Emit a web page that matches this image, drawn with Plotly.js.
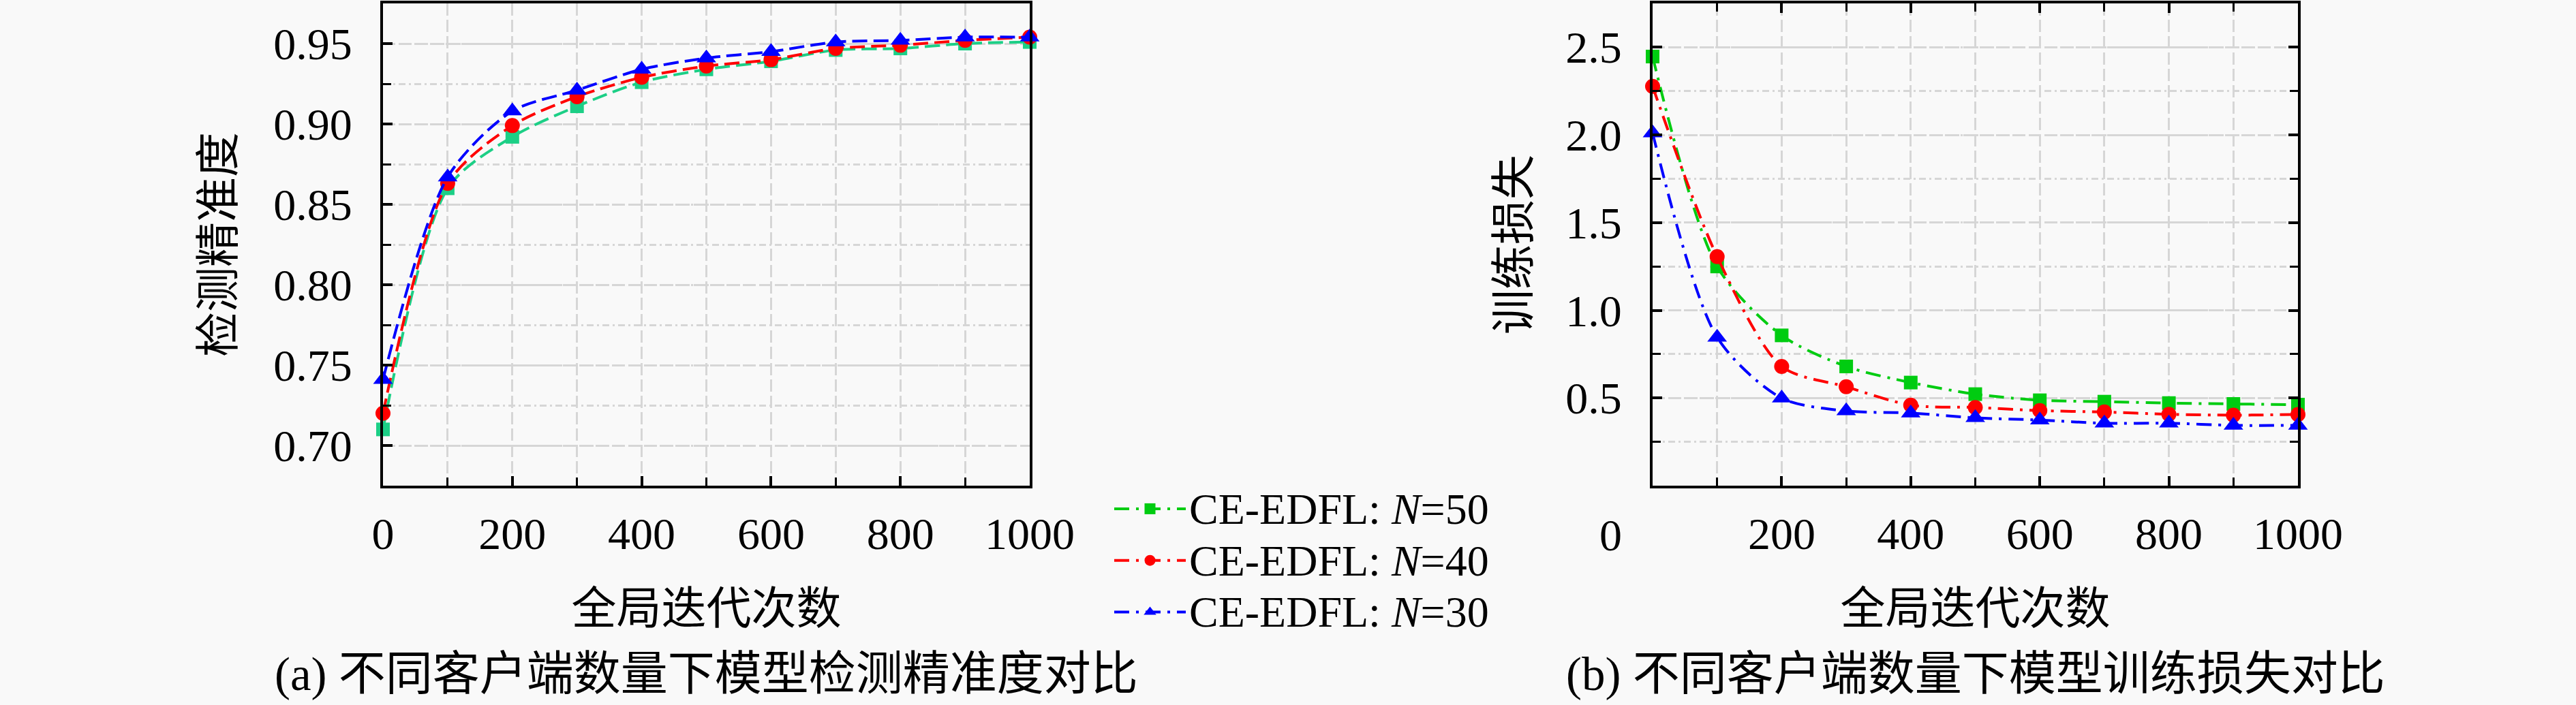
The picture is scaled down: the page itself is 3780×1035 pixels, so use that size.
<!DOCTYPE html>
<html>
<head>
<meta charset="utf-8">
<script src="https://cdn.plot.ly/plotly-3.0.1.min.js"></script>
<style>html,body{margin:0;padding:0;background:#f9f9f9;}#chart{width:3780px;height:1035px;}</style>
</head>
<body>
<div id="chart"></div>
<script>
// ---- data ----
const iterations = [0, 100, 200, 300, 400, 500, 600, 700, 800, 900, 1000];
const seriesNames = ['CE-EDFL: <i>N</i>=50', 'CE-EDFL: <i>N</i>=40', 'CE-EDFL: <i>N</i>=30'];
// (a) detection accuracy
const accN50 = [0.710, 0.860, 0.892, 0.911, 0.926, 0.934, 0.939, 0.946, 0.947, 0.950, 0.951];
const accN40 = [0.720, 0.863, 0.899, 0.917, 0.929, 0.936, 0.940, 0.947, 0.949, 0.952, 0.954];
const accN30 = [0.741, 0.867, 0.908, 0.921, 0.934, 0.941, 0.945, 0.951, 0.952, 0.954, 0.954];
// (b) training loss
const lossN50 = [2.447, 1.250, 0.857, 0.680, 0.588, 0.522, 0.487, 0.479, 0.471, 0.466, 0.462];
const lossN40 = [2.277, 1.306, 0.680, 0.564, 0.459, 0.446, 0.428, 0.420, 0.407, 0.402, 0.406];
const lossN30 = [2.011, 0.846, 0.499, 0.426, 0.414, 0.387, 0.374, 0.356, 0.356, 0.344, 0.344];
const accTicks = [0.70, 0.75, 0.80, 0.85, 0.90, 0.95];
const lossTicks = [0.5, 1.0, 1.5, 2.0, 2.5];
const xTicksA = [0, 200, 400, 600, 800, 1000];
const xTicksB = [200, 400, 600, 800, 1000];
const xTitle = '全局迭代次数';
const yTitleA = '检测精准度';
const yTitleB = '训练损失';
const captionA = '(a) 不同客户端数量下模型检测精准度对比';
const captionB = '(b) 不同客户端数量下模型训练损失对比';

// ---- style ----
const LATIN = 'Liberation Serif, Times New Roman, serif';
const MIXED = 'Liberation Serif, Noto Sans CJK SC, serif';
const CJK = 'Noto Sans CJK SC, sans-serif';
const FS = 66;
const colorsA = ['#1ccf86', '#ff0000', '#0000ff'];
const colorsB = ['#00cc11', '#ff0000', '#0000ff'];
const symbols = ['square', 'circle', 'triangle-up'];
const msize = [20, 22, 25];

const accSeries = [accN50, accN40, accN30];
const lossSeries = [lossN50, lossN40, lossN30];

const traces = [];
accSeries.forEach((ys, i) => {
  traces.push({
    x: iterations, y: ys, xaxis: 'x', yaxis: 'y', type: 'scatter', mode: 'lines+markers',
    name: seriesNames[i], showlegend: false, cliponaxis: false,
    line: {color: colorsA[i], width: 4, dash: '22px,9px', shape: 'spline', smoothing: 0.8},
    marker: {symbol: symbols[i], size: msize[i], color: colorsA[i]}
  });
});
lossSeries.forEach((ys, i) => {
  traces.push({
    x: iterations, y: ys, xaxis: 'x2', yaxis: 'y2', type: 'scatter', mode: 'lines+markers',
    name: '<span style="font-size:64px">' + seriesNames[i] + '</span>', showlegend: true, cliponaxis: false,
    line: {color: colorsB[i], width: 4, dash: '22px,10px,4px,10px', shape: 'spline', smoothing: 0.8},
    marker: {symbol: symbols[i], size: msize[i], color: colorsB[i]}
  });
});

const gridCol = '#d6d6d6';
function xAxis(domain, anchor, tickvals, mirror) {
  return {
    domain: domain, anchor: anchor, range: [0, 1000], tickmode: 'array', tickvals: tickvals,
    ticks: 'inside', ticklen: 14, tickwidth: 4, tickcolor: '#000',
    showline: true, linewidth: 4, linecolor: '#000', mirror: mirror, zeroline: false,
    showgrid: true, gridcolor: gridCol, gridwidth: 3, griddash: '18px,6px',
    minor: {tickmode: 'linear', tick0: 0, dtick: 100, ticks: 'inside', ticklen: 12, tickwidth: 3, tickcolor: '#000',
            showgrid: true, gridcolor: gridCol, gridwidth: 3, griddash: '18px,6px'},
    tickfont: {family: LATIN, size: FS, color: '#000'}, ticklabelstandoff: 10,
    title: {text: xTitle, font: {family: CJK, size: FS, color: '#000'}, standoff: 52}
  };
}
function yAxis(domain, anchor, range, tickvals, fmt, minorStep, title, mirror, standoff) {
  return {
    domain: domain, anchor: anchor, range: range, tickmode: 'array', tickvals: tickvals, tickformat: fmt,
    ticks: 'inside', ticklen: 14, tickwidth: 4, tickcolor: '#000',
    showline: true, linewidth: 4, linecolor: '#000', mirror: mirror, zeroline: false,
    showgrid: true, gridcolor: gridCol, gridwidth: 3, griddash: '18px,6px',
    minor: {tickmode: 'linear', tick0: 0, dtick: minorStep, ticks: 'inside', ticklen: 12, tickwidth: 3, tickcolor: '#000',
            showgrid: true, gridcolor: gridCol, gridwidth: 3, griddash: '10px,5px,3px,5px'},
    tickfont: {family: LATIN, size: FS, color: '#000'}, ticklabelstandoff: 28,
    title: {text: title, font: {family: CJK, size: FS, color: '#000'}, standoff: standoff}
  };
}

const yDom = [1 - 713 / 1035, 1 - 5 / 1035];
const layout = {
  width: 3780, height: 1035,
  margin: {l: 0, r: 0, t: 0, b: 0, pad: 0},
  paper_bgcolor: '#f9f9f9', plot_bgcolor: '#f9f9f9',
  font: {family: MIXED, size: FS, color: '#000'},
  xaxis: xAxis([562 / 3780, 1511 / 3780], 'y', xTicksA, true),
  yaxis: yAxis(yDom, 'x', [0.675, 0.975], accTicks, '.2f', 0.025, yTitleA, true, 37),
  xaxis2: xAxis([2425 / 3780, 3372 / 3780], 'y2', xTicksB, 'ticks'),
  yaxis2: yAxis(yDom, 'x2', [0, 2.75], lossTicks, '.1f', 0.25, yTitleB, 'ticks', 32),
  showlegend: true,
  legend: {
    x: 1630 / 3780, xanchor: 'left', y: 1 - 704 / 1035, yanchor: 'top',
    bgcolor: 'rgba(0,0,0,0)', borderwidth: 0, itemwidth: 105,
    font: {family: LATIN, size: 56, color: '#000'}, tracegroupgap: 0
  },
  annotations: [
    {text: captionA, xref: 'paper', yref: 'paper', x: 1036 / 3780, y: 1 - 990 / 1035, xanchor: 'center', yanchor: 'middle',
     showarrow: false, font: {family: MIXED, size: 69, color: '#000'}},
    {text: captionB, xref: 'paper', yref: 'paper', x: 2899 / 3780, y: 1 - 990 / 1035, xanchor: 'center', yanchor: 'middle',
     showarrow: false, font: {family: MIXED, size: 69, color: '#000'}},
    {text: '0', xref: 'x2', yref: 'y2', x: 0, y: 0, xshift: -62, yshift: -72, xanchor: 'center', yanchor: 'middle',
     showarrow: false, font: {family: LATIN, size: FS, color: '#000'}}
  ]
};

Plotly.newPlot('chart', traces, layout, {staticPlot: true, displayModeBar: false});
</script>
</body>
</html>
